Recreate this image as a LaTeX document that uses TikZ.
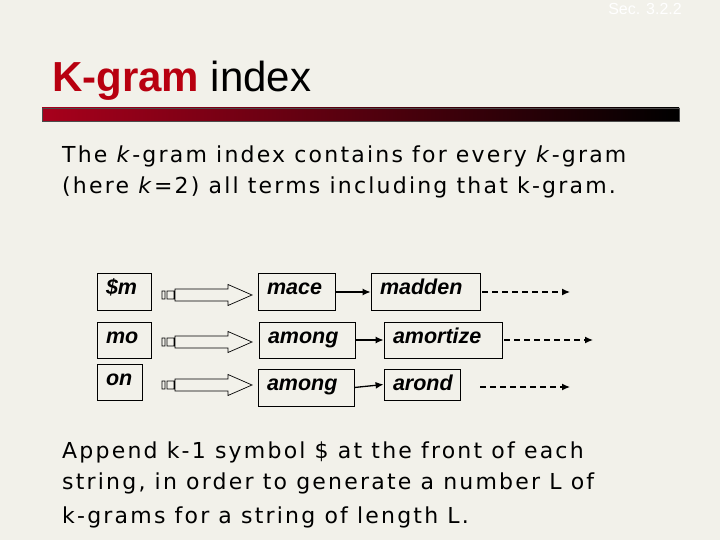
\documentclass[tikz,border=0pt]{standalone}
\usepackage{fontspec}
\setmainfont{Liberation Sans}
\newfontfamily\bodyfont[LetterSpace=10]{DejaVu Sans}
\usetikzlibrary{arrows.meta}
\definecolor{slidebg}{HTML}{F2F1EA}
\definecolor{kred}{HTML}{A8001C}
\definecolor{titlered}{HTML}{B80010}
\tikzstyle{line} = [draw, -{Latex[length=8pt,width=7pt]}, line width=1.3pt]
\tikzstyle{more} = [draw, -{Latex[length=8pt,width=7pt]}, dash pattern=on 6pt off 4pt, line width=1.3pt]
\tikzstyle{gram} = [rectangle, draw, line width=0.8pt, inner xsep=9pt, inner ysep=0pt, text height=21pt, text depth=16pt, align=left, font=\fontsize{21.5}{21}\selectfont\bfseries\itshape]
\tikzstyle{txt} = [anchor=base west, inner sep=0pt, font=\bodyfont\fontsize{22}{31}\selectfont]
% hollow block arrow with two small bars in front
\newcommand{\fatarrow}[1]{%
  \draw [line width=0.7pt, shift={(#1)}] (0,-4) rectangle (3,4) (5,-4) rectangle (12,4)
    (13,-6) -- (66,-6) -- (66,-10.5) -- (90,0) -- (66,10.5) -- (66,6) -- (13,6) -- cycle;}

\begin{document}
\begin{tikzpicture}[x=1pt, y=-1pt]
\fill [slidebg] (0,0) rectangle (720,540);
\useasboundingbox (0,0) rectangle (720,540);

\node [anchor=base east, inner sep=0pt, text=white, font=\fontsize{16}{16}\selectfont] (sec) at (682,15) {Sec. 3.2.2};
\node [anchor=base west, inner sep=0pt, font=\fontsize{42}{42}\selectfont] (title) at (52,92) {\textcolor{titlered}{\bfseries K-gram} index};
\shade [left color=kred, middle color=kred!80!black, right color=black] (42,108) rectangle (679,121);
\draw [line width=0.6pt, black!70] (42,108) rectangle (679,121);

\node [txt] (intro1) at (62,163) {The \textit{k}-gram index contains for every \textit{k}-gram};
\node [txt] (intro2) at (62,194) {(here \textit{k}=2) all terms including that k-gram.};

% row 1
\node [gram, text width=36pt] (sm) at (124,292) {\$m};
\node [gram, text width=59pt, right of=sm, node distance=172.5pt] (mace) {mace};
\node [gram, text width=91pt, right of=mace, node distance=129pt] (madden) {madden};
\coordinate (f1) at (162,295);
\coordinate (end1) at (570,292);
\fatarrow{f1}
\path [line] (mace) -- (madden);
\path [more, shorten <=2pt] (madden) -- (end1);

% row 2
\node [gram, text width=36pt, text depth=15pt] (mo) at (124,340) {mo};
\node [gram, text width=78pt, text depth=15pt, right of=mo, node distance=183pt] (among1) {among};
\node [gram, text width=100pt, text depth=15pt, right of=among1, node distance=136pt] (amortize) {amortize};
\coordinate (f2) at (162,342);
\coordinate (end2) at (593,340);
\fatarrow{f2}
\path [line] (among1) -- (amortize);
\path [more, shorten <=2pt] (amortize) -- (end2);

% row 3
\node [gram, text width=27pt, text depth=15pt] (on) at (119.5,382) {on};
\node [gram, text width=78pt, right of=on, node distance=186.5pt, yshift=-5.5pt] (among2) {among};
\node [gram, text width=58pt, text depth=10pt, right of=among2, node distance=116pt, yshift=3pt] (arond) {arond};
\coordinate (f3) at (162,385);
\coordinate (end3) at (570,387);
\fatarrow{f3}
\path [line] (among2.east) -- (arond.west);
\path [more, shorten <=20pt] (arond.east |- end3) -- (end3);

\node [txt] (note1) at (62,458) {Append k-1 symbol \$ at the front of each};
\node [txt] (note2) at (62,489) {string, in order to generate a number L of};
\node [txt] (note3) at (62,523) {k-grams for a string of length L.};
\end{tikzpicture}
\end{document}
